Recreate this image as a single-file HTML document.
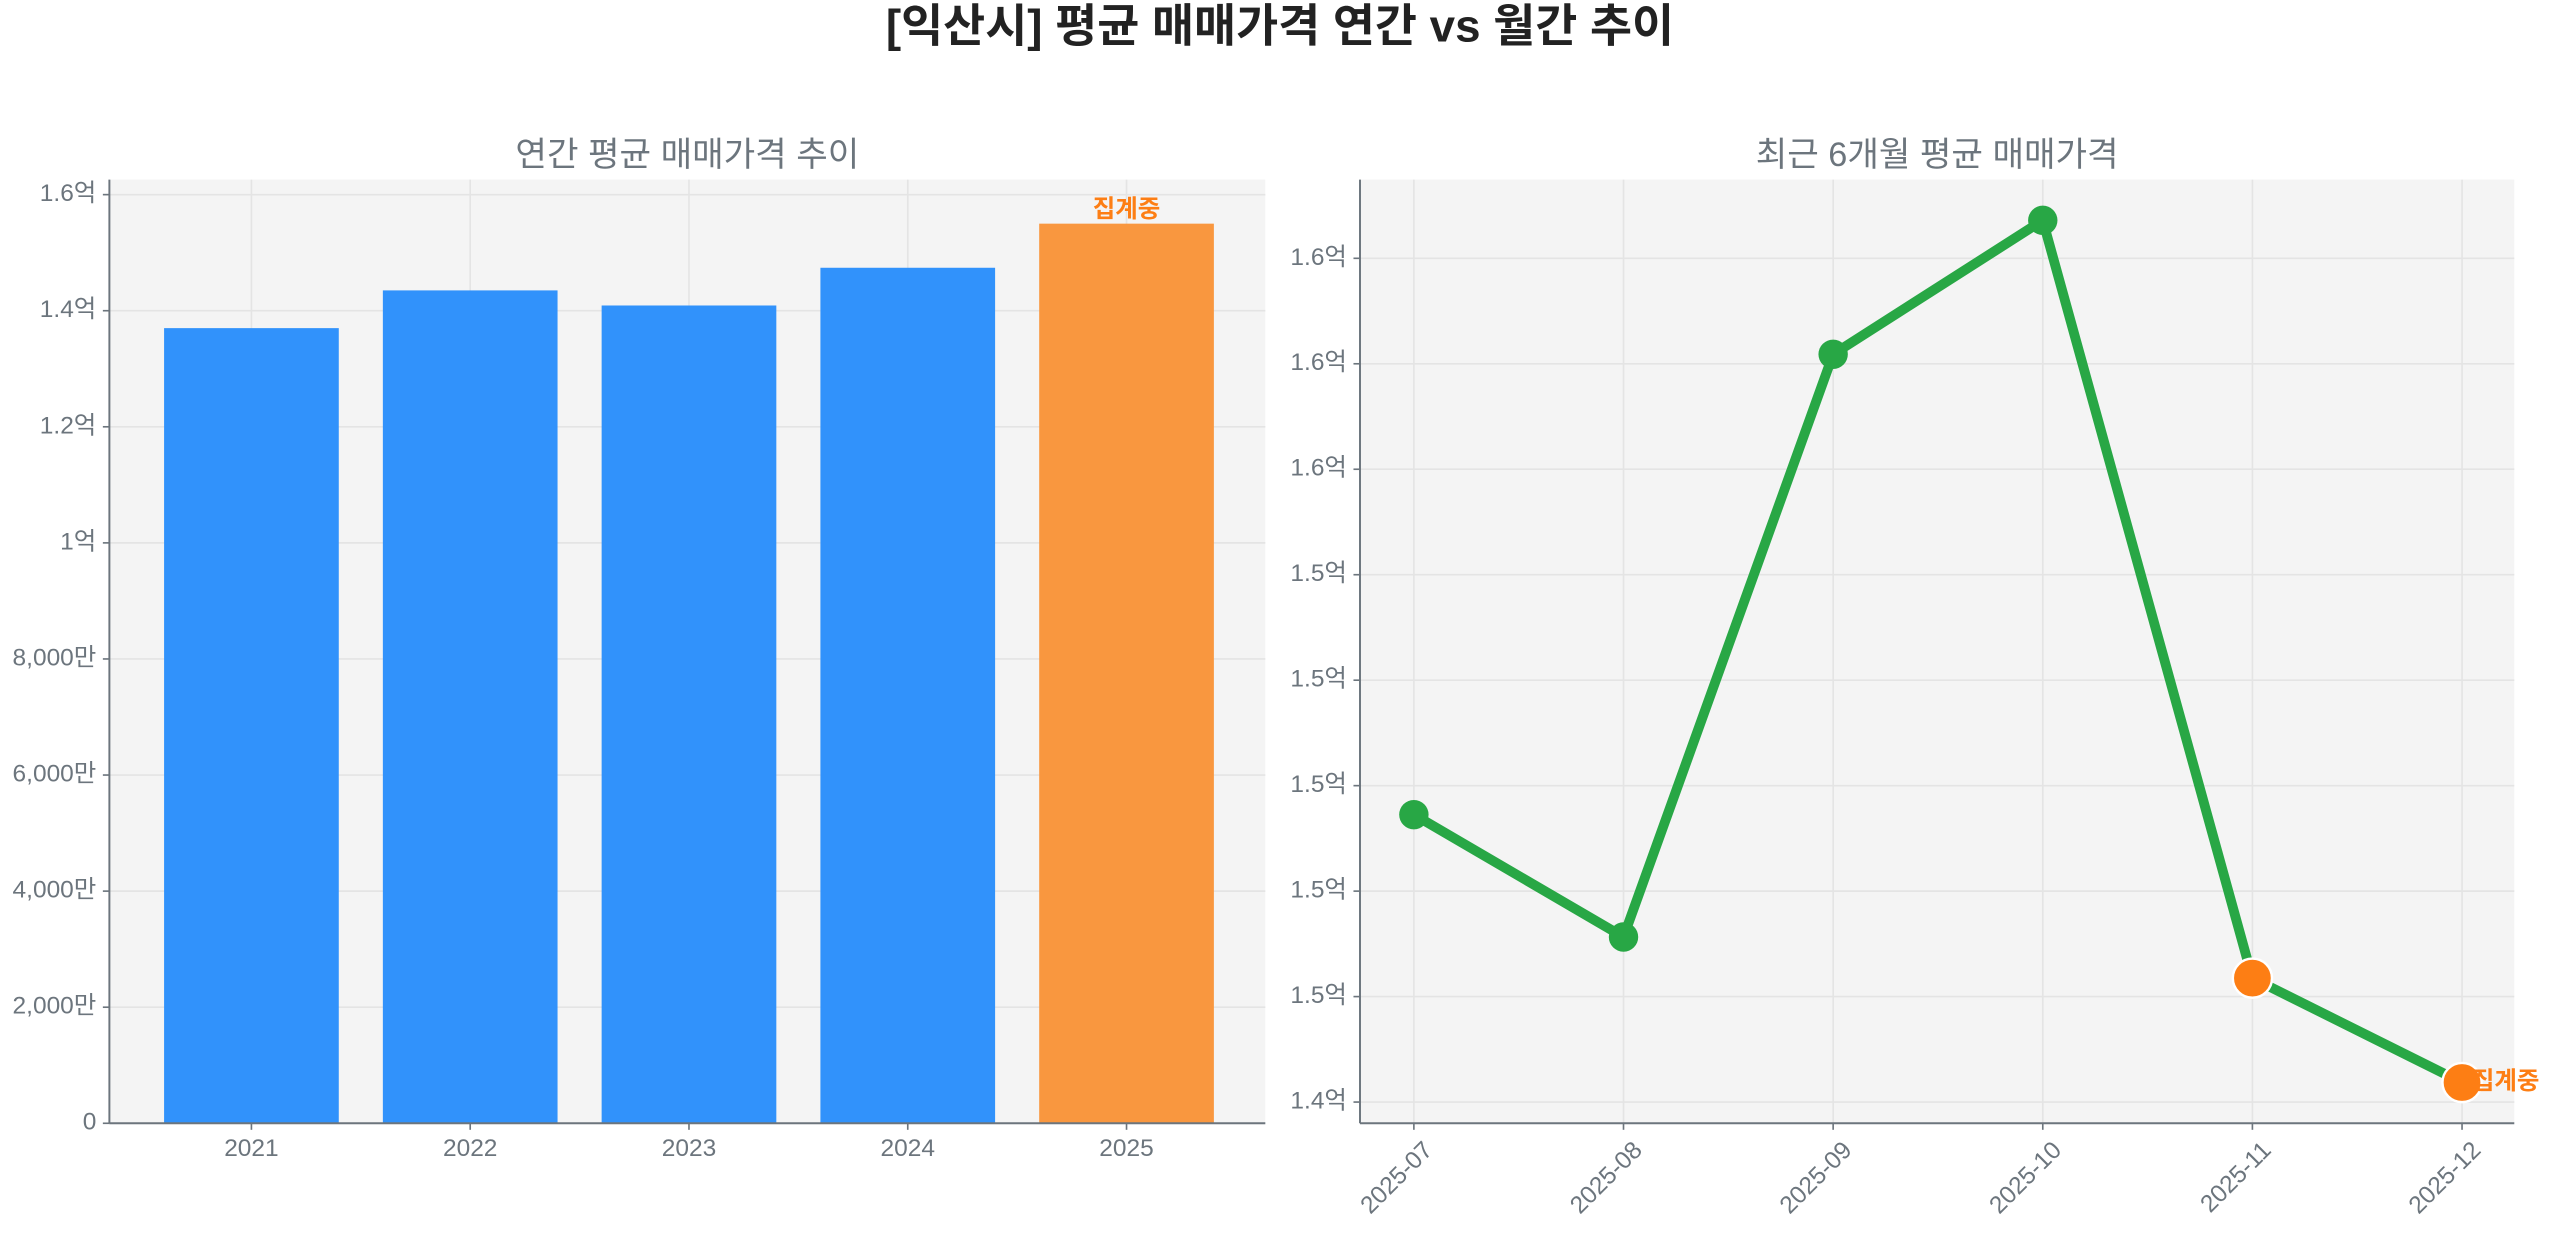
<!DOCTYPE html>
<html><head><meta charset="utf-8"><style>
body{margin:0;background:#fff;width:2560px;height:1234px;overflow:hidden;font-family:"Liberation Sans","Noto Sans CJK KR",sans-serif}
svg text{font-family:"Liberation Sans","Noto Sans CJK KR",sans-serif}
</style></head><body>
<svg id="c" width="2560" height="1234" viewBox="0 0 1568 755.8">
<text x="784" y="18" text-anchor="middle" font-size="28" font-weight="bold" fill="#222" dominant-baseline="middle">[익산시] 평균 매매가격 연간 vs 월간 추이</text>
</svg>
<script>
const years=['2021','2022','2023','2024','2025'];
const annualValues=[1.37,1.435,1.409,1.474,1.55]; // 억
const leftTicks=[0,0.2,0.4,0.6,0.8,1.0,1.2,1.4,1.6];
const leftTickLabels=['0','2,000만','4,000만','6,000만','8,000만','1억','1.2억','1.4억','1.6억'];
const months=['2025-07','2025-08','2025-09','2025-10','2025-11','2025-12'];
const monthlyValues=[1.4945,1.4713,1.5818,1.6072,1.4635,1.4437];
const rightTicks=[1.44,1.46,1.48,1.50,1.52,1.54,1.56,1.58,1.60];
const NS='http://www.w3.org/2000/svg';
const svg=document.getElementById('c');
function mk(t,a,p){const e=document.createElementNS(NS,t);for(const k in a)e.setAttribute(k,a[k]);(p||svg).appendChild(e);return e;}
const gray='#6c757d';
// LEFT
const L={x0:67,x1:775,y0:688,y1:110};
const ly=v=>688-v/0.2*71.1;
const lx=i=>154+134*i;
let e=mk('rect',{x:L.x0,y:L.y1,width:L.x1-L.x0,height:L.y0-L.y1,fill:'#f4f4f4'});

leftTicks.forEach((t,i)=>{
 mk('line',{x1:L.x0,x2:L.x1,y1:ly(t),y2:ly(t),stroke:'#e4e4e4','stroke-width':1});
 const tx=mk('text',{x:L.x0-8,y:ly(t),'text-anchor':'end','dominant-baseline':'middle','font-size':15,fill:gray});
 tx.textContent=leftTickLabels[i];
 
 mk('line',{x1:L.x0-4,x2:L.x0,y1:ly(t),y2:ly(t),stroke:gray});
});
years.forEach((y,i)=>{
 mk('line',{x1:lx(i),x2:lx(i),y1:L.y1,y2:L.y0,stroke:'#e4e4e4'});
 const last=i===years.length-1;
 const b=mk('rect',{x:lx(i)-53.5,y:ly(annualValues[i]),width:107,height:L.y0-ly(annualValues[i]),fill:last?'#f9973f':'#3192fb'});
 
 const t=mk('text',{x:lx(i),y:L.y0+16,'text-anchor':'middle','dominant-baseline':'middle','font-size':15,fill:gray});
 t.textContent=y;
 mk('line',{x1:lx(i),x2:lx(i),y1:L.y0,y2:L.y0+4,stroke:gray});
 if(last){const a=mk('text',{x:lx(i),y:ly(annualValues[i])-4,'text-anchor':'middle','font-size':15,'font-weight':'bold',fill:'#fd7e14'});a.textContent='집계중';
 }
});
mk('line',{x1:L.x0,x2:L.x0,y1:L.y1,y2:L.y0,stroke:gray,'stroke-width':1.2});
mk('line',{x1:L.x0,x2:L.x1,y1:L.y0,y2:L.y0,stroke:gray,'stroke-width':1.2});
e=mk('text',{x:(L.x0+L.x1)/2,y:96,'text-anchor':'middle','dominant-baseline':'middle','font-size':21,fill:gray});
e.textContent='연간 평균 매매가격 추이';
// RIGHT
const R={x0:833,x1:1540,y0:688,y1:110};
const ry=v=>675-(v-1.44)/0.02*64.6;
const rx=i=>866+i*128.4;
e=mk('rect',{x:R.x0,y:R.y1,width:R.x1-R.x0,height:R.y0-R.y1,fill:'#f4f4f4'});

rightTicks.forEach(t=>{
 mk('line',{x1:R.x0,x2:R.x1,y1:ry(t),y2:ry(t),stroke:'#e4e4e4'});
 mk('line',{x1:R.x0-4,x2:R.x0,y1:ry(t),y2:ry(t),stroke:gray});
 const tx=mk('text',{x:R.x0-8,y:ry(t),'text-anchor':'end','dominant-baseline':'middle','font-size':15,fill:gray});
 tx.textContent=t.toFixed(1)+'억';
});
months.forEach((m,i)=>{
 mk('line',{x1:rx(i),x2:rx(i),y1:R.y1,y2:R.y0,stroke:'#e4e4e4'});
 mk('line',{x1:rx(i),x2:rx(i),y1:R.y0,y2:R.y0+4,stroke:gray});
 const t=mk('text',{x:rx(i)+5,y:R.y0+10,'text-anchor':'end','dominant-baseline':'hanging','font-size':15,fill:gray,transform:`rotate(-45 ${rx(i)+5} ${R.y0+10})`});
 t.textContent=m;
});
mk('line',{x1:R.x0,x2:R.x0,y1:R.y1,y2:R.y0,stroke:gray,'stroke-width':1.2});
mk('line',{x1:R.x0,x2:R.x1,y1:R.y0,y2:R.y0,stroke:gray,'stroke-width':1.2});
const line=mk('polyline',{points:monthlyValues.map((v,i)=>rx(i)+','+ry(v)).join(' '),fill:'none',stroke:'#28a745','stroke-width':6,'stroke-linejoin':'round'});

monthlyValues.forEach((v,i)=>{
 const prov=i>=4;
 const c=mk('circle',{cx:rx(i),cy:ry(v),r:prov?12:9,fill:prov?'#fd7e14':'#28a745',stroke:prov?'#fff':'none','stroke-width':1.5});
 
});
e=mk('text',{x:rx(5)+6,y:ry(monthlyValues[5]),'dominant-baseline':'middle','font-size':15,'font-weight':'bold',fill:'#fd7e14'});
e.textContent='집계중';
e=mk('text',{x:(R.x0+R.x1)/2,y:96,'text-anchor':'middle','dominant-baseline':'middle','font-size':21,fill:gray});
e.textContent='최근 6개월 평균 매매가격';
</script>
</body></html>
